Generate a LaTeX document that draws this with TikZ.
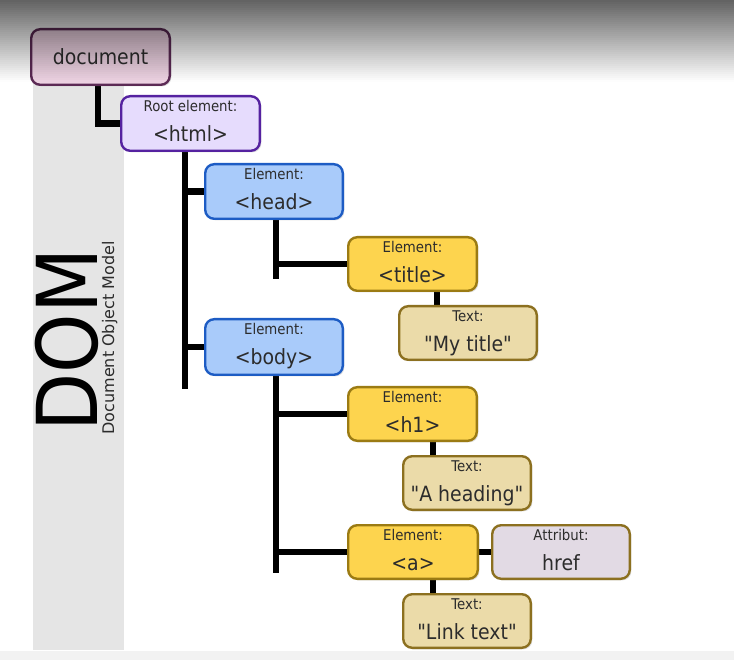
\documentclass[tikz,border=0pt]{standalone}
\usepackage{fontspec}
\setmainfont{DejaVu Sans}[FakeStretch=0.9, Ligatures=TeXOff]
\newfontfamily\subtitlefont{DejaVu Sans}
\usetikzlibrary{shadows,calc}

\definecolor{txt}{HTML}{2C2C2C}
\definecolor{band}{HTML}{E5E5E5}
\definecolor{floor}{HTML}{F2F2F2}
\definecolor{docfill}{HTML}{EDD2E2}
\definecolor{docline}{HTML}{5C2A55}
\definecolor{rootfill}{HTML}{E6DCFD}
\definecolor{rootline}{HTML}{5522A0}
\definecolor{blockfill}{HTML}{A9CBFA}
\definecolor{blockline}{HTML}{1D5CC4}
\definecolor{elemfill}{HTML}{FDD44E}
\definecolor{elemline}{HTML}{9B7B13}
\definecolor{textfill}{HTML}{EBDBA9}
\definecolor{textline}{HTML}{8C7020}
\definecolor{attrfill}{HTML}{E2DAE4}

\pgfdeclarelayer{back}
\pgfdeclarelayer{links}
\pgfdeclarelayer{front}
\pgfsetlayers{back,links,main,front}

\tikzset{
  box/.style={draw, line width=2.4pt, rounded corners=9pt, inner sep=0pt,
    drop shadow={opacity=0.22, shadow xshift=1.6pt, shadow yshift=-1.6pt}},
  docbox/.style={box, fill=docfill, draw=docline},
  rootbox/.style={box, fill=rootfill, draw=rootline},
  blockbox/.style={box, fill=blockfill, draw=blockline},
  elembox/.style={box, fill=elemfill, draw=elemline},
  textbox/.style={box, fill=textfill, draw=textline},
  attrbox/.style={box, fill=attrfill, draw=textline},
  conn/.style={line width=6.5pt, draw=black, line cap=butt, line join=miter},
  lab/.style={anchor=base, inner sep=0pt, text=txt, font=\fontsize{14.8}{16}\selectfont},
  big/.style={anchor=base, inner sep=0pt, text=txt, font=\fontsize{21}{24}\selectfont},
}

% #1 name, #2 style, #3..#6 left/top/right/bottom, #7 kind, #8 tag
\newcommand\dombox[8]{%
  \node[#2, minimum width=#5-#3-2.4, minimum height=#6-#4-2.4] (#1)
    at ({(#3+#5)/2},{(#4+#6)/2}) {};
  \node[lab] (#1-l) at ([yshift=-16.5pt]#1.north) {#7};
  \node[big] (#1-m) at ([yshift=-46.5pt]#1.north) {#8};
}

\begin{document}
\begin{tikzpicture}[x=1pt,y=-1pt]
  \useasboundingbox (0,0) rectangle (734,660);

  \begin{pgfonlayer}{back}
    \fill[white] (0,0) rectangle (734,660);
    \fill[floor] (0,651) rectangle (734,660);
    % side band with the title
    \fill[band] (33,60) rectangle (124,650);
    \node[rotate=90, anchor=base, inner sep=0pt, text=black,
          font=\fontsize{84}{90}\selectfont] (dom) at (97,340) {DOM};
    \node[rotate=90, anchor=base, inner sep=0pt, text=txt,
          font=\subtitlefont\fontsize{16}{18}\selectfont] (domsub) at (114,338)
          {Document Object Model};
  \end{pgfonlayer}

  % tree boxes
  \node[docbox, minimum width=138.6, minimum height=55.6] (doc) at (100.5,57) {};
  \node[big] (doc-m) at (100.5,65) {document};
  \dombox{html}{rootbox}{120}{95}{261}{152}{Root element:}{<html>}
  \dombox{head}{blockbox}{204}{163}{344}{220}{Element:}{<head>}
  \dombox{body}{blockbox}{204}{318}{344}{376}{Element:}{<body>}
  \dombox{title}{elembox}{347}{236}{478}{292}{Element:}{<title>}
  \dombox{mytitle}{textbox}{398}{305}{538}{361}{Text:}{"My title"}
  \dombox{h1}{elembox}{347}{386}{478}{442}{Element:}{<h1>}
  \dombox{heading}{textbox}{402}{455}{532}{511}{Text:}{"A heading"}
  \dombox{a}{elembox}{347}{524}{479}{580}{Element:}{<a>}
  \dombox{href}{attrbox}{491}{524}{631}{580}{Attribut:}{href}
  \dombox{link}{textbox}{402}{593}{532}{649}{Text:}{"Link text"}

  % trunk ends
  \coordinate (htmlEnd) at (185,389);
  \coordinate (headEnd) at (276,279);
  \coordinate (bodyEnd) at (276,573);

  % connectors, beneath the boxes
  \begin{pgfonlayer}{links}
    \draw[conn] ([xshift=-2.5pt]doc.south) |- (html.west);
    \draw[conn] (html.south -| htmlEnd) -- (htmlEnd);
    \draw[conn] (head.west -| htmlEnd) -- (head.west);
    \draw[conn] (body.west -| htmlEnd) -- (body.west);
    \draw[conn] (head.south -| headEnd) -- (headEnd);
    \draw[conn] (title.west -| headEnd) -- (title.west);
    \draw[conn] (body.south -| bodyEnd) -- (bodyEnd);
    \draw[conn] (h1.west -| bodyEnd) -- (h1.west);
    \draw[conn] (a.west -| bodyEnd) -- (a.west);
    \draw[conn] ([xshift=24.5pt]title.south) -- ([xshift=24.5pt]title.south |- mytitle.north);
    \draw[conn] ([xshift=20.5pt]h1.south) -- ([xshift=20.5pt]h1.south |- heading.north);
    \draw[conn] ([xshift=20pt]a.south) -- ([xshift=20pt]a.south |- link.north);
    \draw[conn] (a.east) -- (href.west);
  \end{pgfonlayer}

  % dark veil over the top edge, built from thin strips of falling opacity
  \begin{pgfonlayer}{front}
    \foreach \i [evaluate=\i as \op using {0.62*(1-(\i+0.5)/41)}] in {0,...,40}
      \fill[black, opacity=\op] (0,2*\i) rectangle (734,2*\i+2);
  \end{pgfonlayer}
\end{tikzpicture}
\end{document}
